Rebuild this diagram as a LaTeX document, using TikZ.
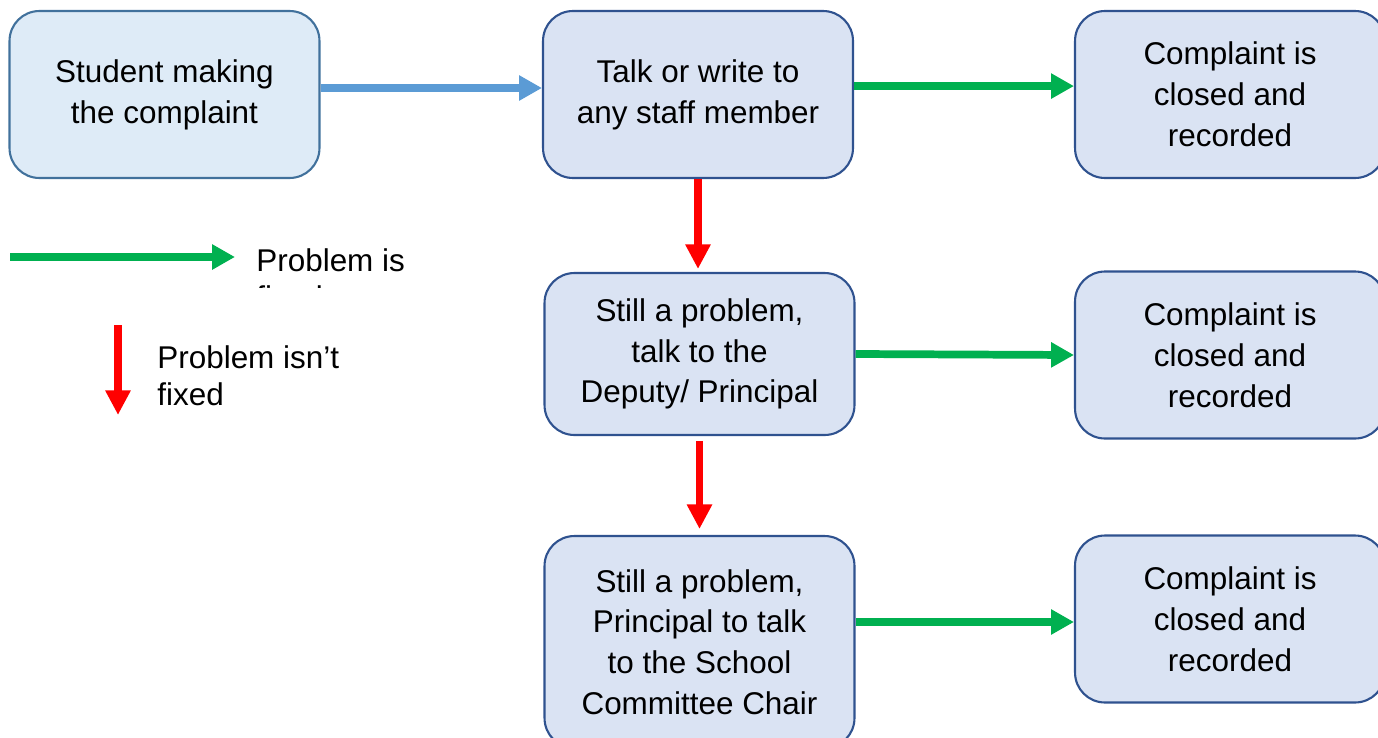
\documentclass[tikz,border=0pt]{standalone}
\usepackage{fontspec}
\setmainfont{Liberation Sans}
\usepackage{tikz}
\usetikzlibrary{arrows.meta}

\definecolor{stepfill}{HTML}{DAE3F3}
\definecolor{stepline}{HTML}{2F528F}
\definecolor{startfill}{HTML}{DEEBF7}
\definecolor{startline}{HTML}{41719C}
\definecolor{askblue}{HTML}{5B9BD5}
\definecolor{fixgreen}{HTML}{00B050}
\definecolor{notred}{HTML}{FF0000}

\tikzset{
  stage/.style={draw=stepline, fill=stepfill, line width=1.2pt, rounded corners=17pt,
    minimum width=6.2cm, minimum height=3.34cm, align=center,
    font=\fontsize{17.9}{23.2}\selectfont,
    execute at begin node=\rule{0pt}{20pt}},
  start/.style={stage, draw=startline, fill=startfill},
  legtext/.style={align=left, inner sep=0pt, font=\fontsize{17.9}{21}\selectfont},
  ask/.style={-{Triangle[length=13pt,width=13.6pt]}, line width=4.4pt, askblue},
  fixed/.style={-{Triangle[length=13pt,width=13.6pt]}, line width=4.4pt, fixgreen},
  notfixed/.style={-{Triangle[length=14pt,width=13.6pt]}, line width=4.4pt, notred}
}

\begin{document}
\begin{tikzpicture}[x=0.02cm,y=-0.02cm]
  \useasboundingbox (0,0) rectangle (1378,737);
  \clip (0,0) rectangle (1378,737);

  % boxes
  \node[start] (student) at (164.5,94.5) {Student making\\the complaint};
  \node[stage] (staff) at (698,94.5) {Talk or write to\\any staff member};
  \node[stage] (closedA) at (1230,94.5) {Complaint is\\closed and\\recorded};
  \node[stage, minimum height=3.24cm] (deputy) at (699.5,354) {Still a problem,\\talk to the\\Deputy/ Principal};
  \node[stage] (closedB) at (1230,355) {Complaint is\\closed and\\recorded};
  \node[stage, minimum height=4.24cm] (chair) at (699.5,642) {Still a problem,\\Principal to talk\\to the School\\Committee Chair};
  \node[stage] (closedC) at (1230,619) {Complaint is\\closed and\\recorded};

  % connectors
  \draw[ask] ([yshift=3.7pt]student.east) -- ([yshift=3.7pt]staff.west);
  \draw[fixed] ([yshift=4.8pt]staff.east) -- ([yshift=4.8pt]closedA.west);
  \draw[fixed] (deputy.east) -- (closedB.west);
  \draw[fixed] ([yshift=-1.7pt]chair.east |- closedC.west) -- ([yshift=-1.7pt]closedC.west);
  \draw[notfixed, shorten >=1.7pt] (staff.south) -- (staff.south |- deputy.north);
  \draw[notfixed, shorten <=2.8pt, shorten >=3.4pt] (deputy.south) -- (deputy.south |- chair.north);

  % legend
  \coordinate (fixA) at (10,257);
  \coordinate (fixB) at (235,257);
  \draw[fixed] (fixA) -- (fixB);
  \begin{scope}
    \clip (240,230) rectangle (440,287);
    \node[legtext, anchor=north west] (fixtxt) at (256,248) {Problem is\\fixed};
  \end{scope}
  \coordinate (notA) at (118,325);
  \coordinate (notB) at (118,415);
  \draw[notfixed] (notA) -- (notB);
  \node[legtext, anchor=north west] (nottxt) at (157,345) {Problem isn’t\\fixed};
\end{tikzpicture}
\end{document}
